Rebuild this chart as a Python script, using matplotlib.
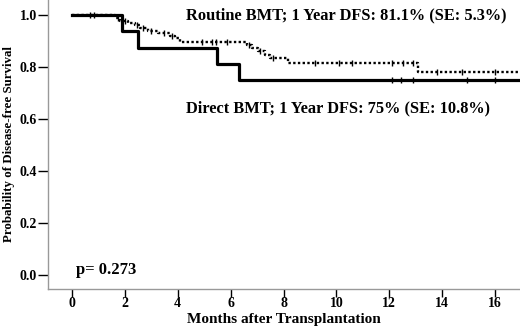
import numpy as np
import matplotlib
matplotlib.use("Agg")
import matplotlib.pyplot as plt

plt.rcParams['font.family'] = ['Liberation Serif', 'DejaVu Serif']
plt.rcParams['font.weight'] = 'bold'

# Direct BMT (solid)
direct_t = [0, 1.9, 2.5, 5.5, 6.3, 16.9]
direct_s = [1.0, 0.9375, 0.875, 0.8125, 0.75, 0.75]
direct_cens_t = [0.7, 0.85, 12.1, 12.45, 12.9, 14.95, 16.0]
direct_cens_s = [1.0, 1.0, 0.75, 0.75, 0.75, 0.75, 0.75]

# Routine BMT (dotted)
routine_t = [0, 1.63, 1.82, 2.12, 2.38, 2.57, 2.87, 3.25, 3.71, 3.9, 4.08,
             6.62, 6.81, 7.03, 7.3, 7.49, 8.17, 13.09, 16.9]
routine_s = [1.0, 0.988, 0.977, 0.969, 0.96, 0.95, 0.94, 0.93, 0.92, 0.91,
             0.897, 0.885, 0.873, 0.86, 0.847, 0.835, 0.815, 0.78, 0.78]
routine_cens_t = [1.75, 2.0, 2.45, 2.7, 3.0, 3.5, 3.8, 4.9, 5.3, 5.45, 5.85,
                  6.7, 7.1, 7.6, 9.2, 10.1, 10.6, 12.1, 12.5, 12.9,
                  13.8, 14.75, 16.0]
routine_cens_s = [0.988, 0.977, 0.96, 0.95, 0.94, 0.93, 0.92, 0.897, 0.897,
                  0.897, 0.897, 0.885, 0.86, 0.835, 0.815, 0.815, 0.815,
                  0.815, 0.815, 0.815, 0.78, 0.78, 0.78]

xticks = [0, 2, 4, 6, 8, 10, 12, 14, 16]
yticks = [0.0, 0.2, 0.4, 0.6, 0.8, 1.0]

fig = plt.figure(figsize=(5.2, 3.28), dpi=100)
ax = fig.add_axes([0.092, 0.119, 0.908, 0.881])

ax.step(routine_t, routine_s, where='post', color='black',
        linestyle=(0, (1, 1)), linewidth=1.7)
ax.plot(routine_cens_t, routine_cens_s, linestyle='none', marker='|',
        color='black', markersize=4, markeredgewidth=1)
ax.step(direct_t, direct_s, where='post', color='black', linewidth=2.3)
ax.plot(direct_cens_t, direct_cens_s, linestyle='none', marker='|',
        color='black', markersize=4, markeredgewidth=1)

ax.set_xlim(-0.91, 16.94)
ax.set_ylim(-0.054, 1.058)
ax.set_xticks(xticks)
ax.set_xticklabels([str(v) for v in xticks])
ax.set_yticks(yticks)
ax.set_yticklabels([f'{v:.1f}' for v in yticks])

for side in ['top', 'right']:
    ax.spines[side].set_visible(False)
for side in ['left', 'bottom']:
    ax.spines[side].set_color('#999999')
    ax.spines[side].set_linewidth(1)

ax.tick_params(axis='both', direction='out', width=1,
               color='black', labelsize=10)
ax.tick_params(axis='y', length=7, pad=1)
ax.tick_params(axis='x', length=6, pad=0)

ax.set_xlabel('Months after Transplantation', fontsize=11, fontweight='bold')
ax.xaxis.set_label_coords(0.5, -0.083)
ax.set_ylabel('Probability of Disease-free Survival', fontsize=9.3,
              fontweight='bold', labelpad=3)

ax.text(4.3, 1.0, 'Routine BMT; 1 Year DFS: 81.1% (SE: 5.3%)', fontsize=11.8,
        fontweight='bold', va='center', ha='left')
ax.text(4.3, 0.64, 'Direct BMT; 1 Year DFS: 75% (SE: 10.8%)', fontsize=11.8,
        fontweight='bold', va='center', ha='left')
ax.text(0.15, 0.02, 'p= 0.273', fontsize=12, fontweight='bold',
        va='center', ha='left')

fig.savefig('out.png', dpi=100)
